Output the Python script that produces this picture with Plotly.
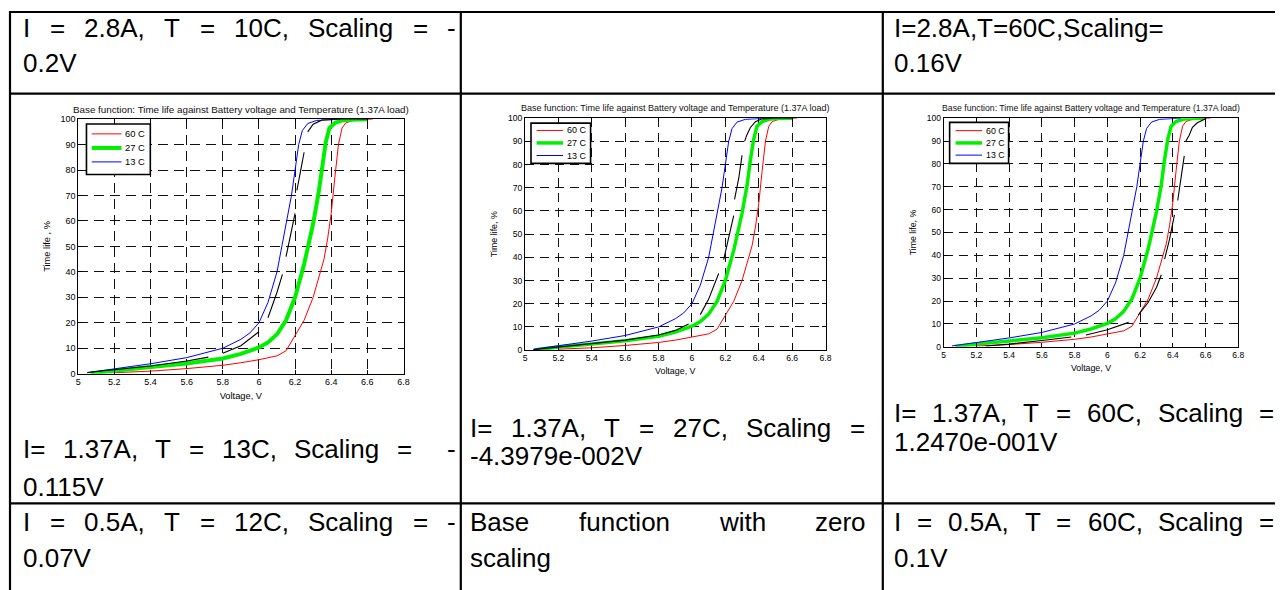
import plotly.graph_objects as go

# The page body adds an 8 px margin, so the figure is 8 px smaller than the window
OFF = 8
W, H = 1283 - OFF, 590 - OFF

# ---------------- data ----------------
# Base function curves, identical in all three panels
V_60C = [5.2, 5.4, 5.6, 5.8, 5.9, 6.0, 6.1, 6.15, 6.2, 6.25, 6.3, 6.33, 6.36, 6.38, 6.4, 6.42, 6.44, 6.46, 6.48, 6.52, 6.6, 6.63]
TL_60C = [0.4, 1.0, 2.0, 3.3, 4.3, 5.5, 7.0, 9.0, 15.0, 21.0, 30.0, 37.0, 45.0, 53.0, 63.0, 77.0, 90.0, 96.5, 98.5, 99.5, 99.9, 100]

V_27C = [5.07, 5.2, 5.4, 5.6, 5.8, 5.9, 6.0, 6.05, 6.1, 6.15, 6.2, 6.25, 6.3, 6.33, 6.35, 6.37, 6.39, 6.42, 6.46, 6.5, 6.6]
TL_27C = [0.2, 1.3, 2.6, 4.0, 6.0, 7.8, 10.3, 12.3, 15.5, 21.0, 30.0, 43.0, 59.0, 71.0, 82.0, 91.0, 96.5, 98.5, 99.5, 99.8, 100]

V_13C = [5.05, 5.2, 5.4, 5.6, 5.8, 5.9, 5.95, 6.0, 6.05, 6.1, 6.15, 6.18, 6.2, 6.22, 6.24, 6.27, 6.32, 6.4, 6.45]
TL_13C = [0.4, 1.9, 3.9, 6.3, 10.0, 13.5, 16.0, 20.0, 28.0, 40.0, 58.0, 70.0, 80.0, 90.0, 95.5, 98.3, 99.5, 99.9, 100]

# Measured (scaled) data, black; None marks a gap in the record
V_MEAS_13C = [5.05, 5.2, 5.4, 5.6, 5.72, None, 5.8, 5.9, 6.0, None, 6.05, 6.1, 6.13, None, 6.15, 6.2, None,
              6.21, 6.25, None, 6.27, 6.3, 6.35, 6.45, 6.6]
TL_MEAS_13C = [0.5, 1.5, 3.0, 5.0, 6.5, None, 8.0, 11.0, 16.5, None, 22.0, 32.0, 39.0, None, 46.0, 63.0, None,
               72.0, 87.0, None, 95.0, 98.0, 99.7, 100, 100]

V_MEAS_27C = [5.05, 5.2, 5.4, 5.6, 5.8, 5.9, 5.98, None, 6.05, 6.1, 6.16, None, 6.19, 6.22, 6.25, None,
              6.255, 6.28, 6.3, None, 6.315, 6.33, 6.35, 6.38, 6.42, 6.5, 6.6]
TL_MEAS_27C = [0.2, 1.3, 2.8, 4.3, 6.5, 8.5, 11.3, None, 15.3, 22.0, 33.0, None, 39.0, 48.0, 58.0, None,
               65.0, 74.0, 84.0, None, 90.0, 93.0, 96.0, 98.5, 99.7, 100, 100]

V_MEAS_60C = [5.26, 5.4, 5.6, 5.78, None, 5.87, 6.0, 6.13, None, 6.19, 6.25, 6.3, 6.33, None, 6.35, 6.38, 6.41, None,
              6.43, 6.45, 6.47, None, 6.48, 6.5, 6.52, 6.55, 6.6]
TL_MEAS_60C = [0.4, 1.2, 2.8, 4.3, None, 5.2, 7.5, 10.7, None, 14.0, 19.5, 26.0, 31.5, None, 38.4, 47.0, 57.7, None,
               64.0, 73.0, 83.5, None, 90.0, 92.5, 96.0, 98.0, 99.7]

X_TICKS = [5.0, 5.2, 5.4, 5.6, 5.8, 6.0, 6.2, 6.4, 6.6, 6.8]
X_TICK_LABELS = ["5", "5.2", "5.4", "5.6", "5.8", "6", "6.2", "6.4", "6.6", "6.8"]
Y_TICKS = [0, 10, 20, 30, 40, 50, 60, 70, 80, 90, 100]
Y_TICK_LABELS = ["0", "10", "20", "30", "40", "50", "60", "70", "80", "90", "100"]

SERIES_NAMES = ["60 C", "27 C", "13 C"]
SERIES_COLORS = ["#ff0000", "#00f000", "#0000ff"]
PANEL_TITLE = "Base function: Time life against Battery voltage and Temperature (1.37A load)"
X_LABEL = "Voltage, V"
Y_LABELS = ["Time life , %", "Time life, %", "Time life, %"]

# Table text: (first line, second line) per cell
ROW1_TEXT = [("I = 2.8A, T = 10C, Scaling = -", "0.2V"), None, ("I=2.8A,T=60C,Scaling=", "0.16V")]
ROW2_TEXT = [("I= 1.37A, T = 13C, Scaling =  -", "0.115V"),
             ("I= 1.37A, T = 27C, Scaling =", "-4.3979e-002V"),
             ("I= 1.37A, T = 60C, Scaling =", "1.2470e-001V")]
ROW3_TEXT = [("I = 0.5A, T = 12C, Scaling = -", "0.07V"),
             ("Base function with zero", "scaling"),
             ("I = 0.5A, T = 60C, Scaling =", "0.1V")]

# ---------------- layout helpers ----------------
FONT = "Liberation Sans, Arial, sans-serif"


def fx(px):
    return (px - OFF) / W


def fy(py):
    return 1 - (py - OFF) / H


# Arial / Liberation Sans advance widths (1/1000 em)
AW = {' ': 278, ',': 278, '-': 333, '.': 278, '=': 584, '0': 556, '1': 556, '2': 556, '3': 556, '4': 556,
      '5': 556, '6': 556, '7': 556, '8': 556, '9': 556, 'A': 667, 'B': 667, 'C': 722, 'I': 278, 'S': 667,
      'T': 611, 'V': 667, 'a': 556, 'c': 500, 'e': 556, 'f': 278, 'g': 556, 'h': 556, 'i': 222, 'l': 222,
      'n': 556, 'o': 556, 'r': 333, 's': 500, 't': 278, 'u': 556, 'w': 722, 'z': 500}


def tw(s, size):
    return sum(AW.get(c, 556) for c in s) * size / 1000.0


panels = [
    dict(box=(75.7, 116, 403.3, 375), title_y=106, tfs=9.8, fs=9.0, gw=4.0, ylab=Y_LABELS[0], dash="10px,6px",
         meas=(V_MEAS_13C, TL_MEAS_13C),
         leg=dict(box=(84, 121, 148.3, 172.3), sx=(89.3, 119.3), tx=123.3, ys=(131, 145.3, 159.5), fs=9.4)),
    dict(box=(525.7, 115, 828.3, 351), title_y=105, tfs=9.0, fs=8.6, gw=3.5, ylab=Y_LABELS[1], dash="9px,6px",
         meas=(V_MEAS_27C, TL_MEAS_27C),
         leg=dict(box=(531.7, 120, 591.7, 161), sx=(537.3, 564), tx=567.5, ys=(127.5, 140.2, 153), fs=9.0)),
    dict(box=(947.3, 115, 1244, 347.7), title_y=105, tfs=8.7, fs=8.5, gw=3.5, ylab=Y_LABELS[2], dash="9px,6px",
         meas=(V_MEAS_60C, TL_MEAS_60C),
         leg=dict(box=(953.3, 119.3, 1012.7, 161), sx=(959.3, 986), tx=989.5, ys=(127.7, 140.2, 152.6), fs=8.8)),
]

fig = go.Figure()
layout = dict(width=W, height=H, margin=dict(l=0, r=0, t=0, b=0), autosize=False, showlegend=False,
              paper_bgcolor="white", plot_bgcolor="white", font=dict(family=FONT, color="black"))
annotations = []
shapes = []

base_x = [V_60C, V_27C, V_13C]
base_y = [TL_60C, TL_27C, TL_13C]

for i, p in enumerate(panels):
    s = "" if i == 0 else str(i + 1)
    xa, ya = "x" + s, "y" + s
    widths = [1.0, p["gw"], 1.0]
    for k in range(3):
        fig.add_trace(go.Scatter(
            x=base_x[k], y=base_y[k], mode="lines", name=SERIES_NAMES[k],
            line=dict(color=SERIES_COLORS[k], width=widths[k]), xaxis=xa, yaxis=ya))
    fig.add_trace(go.Scatter(
        x=p["meas"][0], y=p["meas"][1], mode="lines", name="measured",
        line=dict(color="black", width=1.1), connectgaps=False, xaxis=xa, yaxis=ya))

    l, t, r, b = p["box"]
    axis_common = dict(showline=True, linecolor="black", linewidth=1, mirror="ticks",
                       ticks="inside", ticklen=4, tickcolor="black", tickwidth=1,
                       showgrid=True, gridcolor="#111111", gridwidth=0.8, griddash=p["dash"],
                       zeroline=False, tickfont=dict(size=p["fs"], family=FONT, color="black"))
    layout["xaxis" + s] = dict(axis_common, domain=[fx(l), fx(r)], anchor=ya, range=[5, 6.8],
                               tickmode="array", tickvals=X_TICKS, ticktext=X_TICK_LABELS,
                               title=dict(text=X_LABEL, font=dict(size=p["fs"] + 0.3), standoff=5))
    layout["yaxis" + s] = dict(axis_common, domain=[fy(b), fy(t)], anchor=xa, range=[0, 100],
                               tickmode="array", tickvals=Y_TICKS, ticktext=Y_TICK_LABELS,
                               title=dict(text=p["ylab"], font=dict(size=p["fs"] + 0.3), standoff=8))
    annotations.append(dict(text=PANEL_TITLE, x=fx((l + r) / 2), y=fy(p["title_y"]), xref="paper",
                            yref="paper", xanchor="center", yanchor="middle", showarrow=False,
                            font=dict(size=p["tfs"], family=FONT, color="#111")))

    # MATLAB style legend box
    lg = p["leg"]
    bl, bt, br, bb = lg["box"]
    shapes.append(dict(type="rect", xref="paper", yref="paper", x0=fx(bl), y0=fy(bb), x1=fx(br), y1=fy(bt),
                       line=dict(color="black", width=1.6), fillcolor="white", layer="above"))
    for k in range(3):
        shapes.append(dict(type="line", xref="paper", yref="paper", x0=fx(lg["sx"][0]), x1=fx(lg["sx"][1]),
                           y0=fy(lg["ys"][k]), y1=fy(lg["ys"][k]),
                           line=dict(color=SERIES_COLORS[k], width=widths[k]), layer="above"))
        annotations.append(dict(text=SERIES_NAMES[k], x=fx(lg["tx"]), y=fy(lg["ys"][k]), xref="paper",
                                yref="paper", xanchor="left", yanchor="middle", showarrow=False,
                                borderpad=0, borderwidth=0, font=dict(size=lg["fs"], family=FONT, color="black")))

# ---------------- table grid ----------------
LINE = dict(color="black", width=2.2)
for x0, y0, x1, y1 in [(6, 7, 1290, 7), (7, 6, 7, 600), (461, 7, 461, 600), (886, 7, 886, 600),
                       (7, 90, 1290, 90), (7, 507, 1290, 507)]:
    shapes.append(dict(type="line", xref="paper", yref="paper", x0=fx(x0), y0=fy(y0), x1=fx(x1), y1=fy(y1),
                       line=LINE, layer="above"))

TEXT_FS = 26
COL_LEFT = [20, 470, 897]
COL_RIGHT = [456, 868, 1280]


def add_line(text, col, yc, justify):
    x0, x1 = COL_LEFT[col], COL_RIGHT[col]
    tokens = text.split(" ")
    nsp = len(tokens) - 1
    if not justify or nsp == 0:
        annotations.append(dict(text=text, x=fx(x0), y=fy(yc), xref="paper", yref="paper", xanchor="left",
                                yanchor="middle", showarrow=False, borderpad=0, borderwidth=0,
                                font=dict(size=TEXT_FS, family=FONT, color="black")))
        return
    total = sum(tw(tok, TEXT_FS) for tok in tokens)
    gap = (x1 - x0 - total) / nsp
    x = x0
    for tok in tokens:
        if tok:
            annotations.append(dict(text=tok, x=fx(x), y=fy(yc), xref="paper", yref="paper", xanchor="left",
                                    yanchor="middle", showarrow=False, borderpad=0, borderwidth=0,
                                    font=dict(size=TEXT_FS, family=FONT, color="black")))
        x += tw(tok, TEXT_FS) + gap


ROW_Y = [[(23, 59), None, (23, 59)],
         [(452, 490), (430, 459), (415, 445)],
         [(526, 563), (526, 563), (526, 563)]]
for r, row in enumerate([ROW1_TEXT, ROW2_TEXT, ROW3_TEXT]):
    for c, cell in enumerate(row):
        if cell is None:
            continue
        y1, y2 = ROW_Y[r][c]
        add_line(cell[0], c, y1, justify=True)
        add_line(cell[1], c, y2, justify=False)

layout["annotations"] = annotations
layout["shapes"] = shapes
fig.update_layout(**layout)
fig.write_html("out.html")
